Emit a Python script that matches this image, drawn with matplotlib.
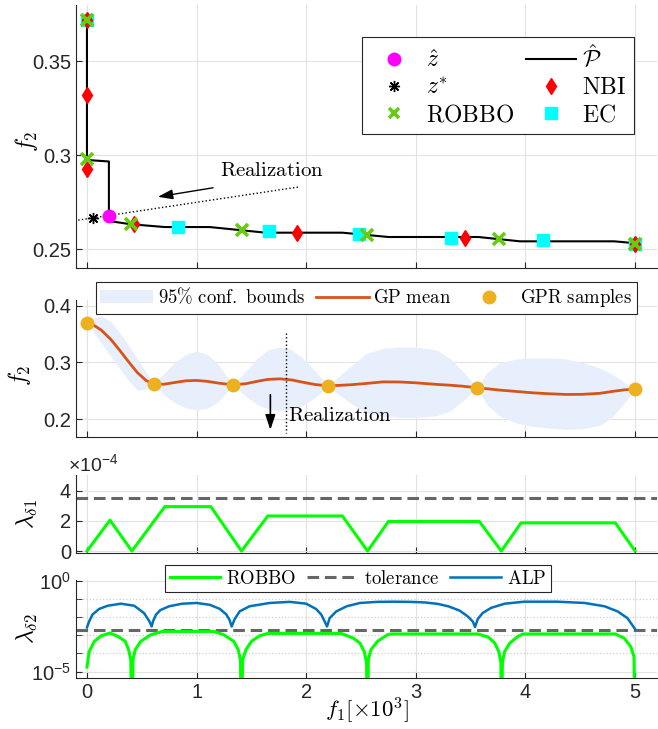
import numpy as np
import matplotlib.pyplot as plt
from matplotlib.ticker import FixedLocator, NullFormatter
from matplotlib.lines import Line2D
from matplotlib.patches import Patch

plt.rcParams['font.family'] = ['Liberation Sans', 'DejaVu Sans']
plt.rcParams['mathtext.fontset'] = 'cm'
plt.rcParams['axes.unicode_minus'] = False

# ---------------- data ----------------
# panel 1: estimated Pareto front and the methods' points
front_x = [0, 0, 0.20, 0.20, 0.40, 0.71, 1.12, 1.63, 2.33, 2.75, 3.57, 3.95, 4.81, 5.0]
front_y = [0.372, 0.2975, 0.2967, 0.265, 0.2633, 0.2618, 0.2618, 0.2588, 0.2588,
           0.2565, 0.2565, 0.2542, 0.2542, 0.2532]
zhat_x, zhat_y = [0.20], [0.2679]
zstar_x, zstar_y = [0.055], [0.2667]
robbo_x = [0, 0, 0.40, 1.41, 2.55, 3.76, 5.0]
robbo_y = [0.372, 0.298, 0.2636, 0.2602, 0.2577, 0.2553, 0.2530]
nbi_x = [0, 0, 0, 0.43, 1.92, 3.45, 5.0]
nbi_y = [0.372, 0.332, 0.2925, 0.2633, 0.2588, 0.2562, 0.2530]
ec_x = [0, 0.83, 1.665, 2.48, 3.32, 4.157, 5.0]
ec_y = [0.372, 0.2620, 0.2597, 0.2583, 0.2562, 0.2548, 0.2530]

# panel 2: GP regression
gp_x = [0, 0.05, 0.13, 0.22, 0.30, 0.38, 0.46, 0.54, 0.61,
        0.70, 0.80, 0.90, 1.00, 1.10, 1.20, 1.33,
        1.45, 1.55, 1.65, 1.76, 1.87, 1.97, 2.08, 2.20,
        2.30, 2.40, 2.55, 2.70, 2.85, 3.00, 3.19, 3.31, 3.43, 3.56,
        3.65, 3.77, 3.92, 4.07, 4.22, 4.37, 4.52, 4.68, 4.80, 4.90, 5.0]
gp_mean = [0.370, 0.367, 0.357, 0.340, 0.321, 0.301, 0.282, 0.268, 0.262,
           0.2615, 0.2645, 0.2675, 0.2682, 0.2665, 0.2635, 0.2604,
           0.2625, 0.2665, 0.2700, 0.2710, 0.2690, 0.2650, 0.2610, 0.2587,
           0.2595, 0.2605, 0.2629, 0.2657, 0.2655, 0.2640, 0.2612, 0.2598, 0.2580, 0.2552,
           0.2535, 0.2511, 0.2487, 0.2463, 0.2447, 0.2435, 0.2437, 0.2455, 0.2490, 0.2515, 0.2529]
gp_upper = [0.370, 0.378, 0.382, 0.372, 0.352, 0.330, 0.306, 0.283, 0.262,
            0.280, 0.300, 0.314, 0.320, 0.314, 0.296, 0.2604,
            0.285, 0.307, 0.322, 0.327, 0.322, 0.307, 0.285, 0.2587,
            0.276, 0.292, 0.316, 0.325, 0.327, 0.327, 0.322, 0.307, 0.284, 0.2552,
            0.282, 0.300, 0.306, 0.308, 0.308, 0.306, 0.300, 0.290, 0.278, 0.265, 0.2529]
gp_lower = [0.370, 0.356, 0.334, 0.310, 0.289, 0.268, 0.251, 0.253, 0.262,
            0.243, 0.229, 0.220, 0.216, 0.219, 0.231, 0.2604,
            0.240, 0.226, 0.218, 0.215, 0.217, 0.224, 0.238, 0.2587,
            0.243, 0.229, 0.211, 0.205, 0.203, 0.203, 0.206, 0.214, 0.232, 0.2552,
            0.225, 0.205, 0.193, 0.187, 0.184, 0.182, 0.183, 0.189, 0.205, 0.228, 0.2529]
gpr_x = [0, 0.61, 1.33, 2.20, 3.56, 5.0]
gpr_y = [0.370, 0.262, 0.2604, 0.2587, 0.2552, 0.2529]

# panel 3: lambda_delta1 (x1e-4)
lam1_x = [0, 0.21, 0.41, 0.71, 1.13, 1.41, 1.65, 2.33, 2.56, 2.75, 3.58, 3.78, 3.96, 4.82, 5.0]
lam1_y = [0, 2.05, 0, 2.95, 2.95, 0, 2.33, 2.33, 0, 1.96, 1.96, 0, 1.87, 1.87, 0]
tol1 = 3.55

# panel 4: lambda_delta2 (log10 values)
rob2_x = [0, 0.02, 0.067, 0.13, 0.21, 0.285, 0.35, 0.38, 0.40, 0.41,
          0.42, 0.44, 0.49, 0.58, 0.69, 1.16, 1.25, 1.34, 1.38, 1.40, 1.41,
          1.42, 1.45, 1.50, 1.575, 1.65, 2.32, 2.43, 2.49, 2.53, 2.55, 2.56,
          2.567, 2.59, 2.65, 2.74, 2.77, 3.565, 3.66, 3.72, 3.757, 3.776, 3.78,
          3.79, 3.81, 3.857, 3.93, 3.98, 4.82, 4.90, 4.96, 4.99, 5.0]
rob2_exp = [-4.75, -3.9, -3.34, -3.03, -2.88, -3.07, -3.34, -3.8, -4.35, -8,
            -4.35, -3.8, -3.34, -2.98, -2.79, -2.79, -2.98, -3.34, -3.8, -4.35, -8,
            -4.35, -3.8, -3.34, -3.03, -2.90, -2.90, -3.16, -3.43, -3.9, -4.5, -8,
            -4.35, -3.8, -3.34, -2.98, -2.93, -2.93, -3.1, -3.43, -3.9, -4.5, -8,
            -4.5, -3.9, -3.43, -3.07, -2.93, -2.93, -3.16, -3.62, -4.17, -8]
alp_x = [0, 0.02, 0.05, 0.11, 0.19, 0.31, 0.43, 0.52, 0.57, 0.59,
         0.605, 0.63, 0.67, 0.75, 0.87, 1.0, 1.12, 1.21, 1.27, 1.30, 1.32,
         1.348, 1.393, 1.484, 1.667, 1.849, 2.0, 2.09, 2.138, 2.168, 2.19,
         2.214, 2.275, 2.37, 2.49, 2.65, 2.80, 2.95, 3.08, 3.20, 3.30, 3.40, 3.47, 3.52, 3.54,
         3.565, 3.61, 3.686, 3.81, 3.99, 4.29, 4.54, 4.72, 4.84, 4.93, 5.0]
alp_exp = [-2.57, -2.24, -1.87, -1.56, -1.38, -1.27, -1.38, -1.78, -2.24, -2.52,
           -2.2, -1.87, -1.62, -1.41, -1.27, -1.23, -1.33, -1.55, -1.85, -2.15, -2.52,
           -2.11, -1.69, -1.41, -1.23, -1.17, -1.27, -1.56, -1.87, -2.24, -2.52,
           -2.06, -1.69, -1.41, -1.23, -1.17, -1.16, -1.17, -1.20, -1.28, -1.42, -1.65, -1.95, -2.25, -2.55,
           -2.11, -1.78, -1.5, -1.27, -1.16, -1.16, -1.23, -1.41, -1.69, -2.06, -2.66]
tol2 = 2.0e-3

# annotation positions
real1_line = ([-0.08, 1.94], [0.2655, 0.2832])
real1_arrow = ((1.15, 0.2827), (0.647, 0.2779))
real1_text = (1.21, 0.292)
real2_line = ([1.813, 1.813], [0.351, 0.175])
real2_arrow = ((1.673, 0.243), (1.673, 0.181))
real2_text = (1.834, 0.207)

GREEN = '#00ff00'
XGREEN = '#66cc11'
GRAY = '#666666'
BLUE = '#0072bd'
ORANGE = '#d95319'
GOLD = '#edb120'
BAND = '#e8effc'
AXC = '#262626'

def style(ax):
    for s in ['top', 'right']:
        ax.spines[s].set_visible(False)
    for s in ['left', 'bottom']:
        ax.spines[s].set_color(AXC)
        ax.spines[s].set_linewidth(0.8)
    ax.tick_params(direction='in', length=4, colors=AXC, labelsize=14.5, width=0.8)
    ax.tick_params(which='minor', direction='in', length=4, colors=AXC, width=0.6)
    ax.grid(True, color='#e2e2e2', lw=0.8)
    ax.set_axisbelow(True)
    ax.set_xlim(-0.1, 5.2)
    ax.set_xticks(range(6))

W, H = 658, 729
fig = plt.figure(figsize=(W / 100, H / 100), dpi=100)

def box(l, t, r, b):
    return [l / W, 1 - b / H, (r - l) / W, (b - t) / H]

ax1 = fig.add_axes(box(76, 5, 657, 268))
ax2 = fig.add_axes(box(76, 300, 657, 436.7))
ax3 = fig.add_axes(box(76, 475, 657, 553.3))
ax4 = fig.add_axes(box(76, 580, 657, 677.7))

# ---------------- panel 1 ----------------
style(ax1)
ax1.plot(front_x, front_y, color='k', lw=1.5, zorder=3)
ax1.plot(real1_line[0], real1_line[1], color='k', ls=':', lw=1, zorder=3)
ax1.plot(ec_x, ec_y, 's', color='cyan', ms=9, mec='cyan', zorder=4)
ax1.plot(nbi_x, nbi_y, 'd', color='red', ms=8.5, zorder=5)
ax1.plot(robbo_x, robbo_y, 'x', color=XGREEN, ms=9, mew=2.6, zorder=6)
ax1.plot(zstar_x, zstar_y, marker=(8, 2, 0), color='k', ms=8, mew=1, ls='none', zorder=6)
ax1.plot(zhat_x, zhat_y, 'o', color='magenta', ms=9, zorder=7)
ax1.annotate('', xy=real1_arrow[1], xytext=real1_arrow[0],
             arrowprops=dict(arrowstyle='-|>,head_length=0.9,head_width=0.3',
                             color='k', lw=1.0, shrinkA=0, shrinkB=0))
ax1.text(real1_text[0], real1_text[1], r'$\mathrm{Realization}$', fontsize=15,
         va='center', ha='left')
ax1.set_ylim(0.24, 0.38)
ax1.set_yticks([0.25, 0.3, 0.35])
ax1.set_yticklabels(['0.25', '0.3', '0.35'])
ax1.xaxis.set_major_formatter(NullFormatter())
ax1.set_ylabel(r'$f_2$', fontsize=17)
ax1.yaxis.set_label_coords(-0.062, 0.48)

h1 = [Line2D([], [], ls='none', marker='o', color='magenta', ms=9),
      Line2D([], [], ls='none', marker=(8, 2, 0), color='k', ms=8, mew=1),
      Line2D([], [], ls='none', marker='x', color=XGREEN, ms=7, mew=2.6),
      Line2D([], [], color='k', lw=1.5),
      Line2D([], [], ls='none', marker='d', color='red', ms=8.5),
      Line2D([], [], ls='none', marker='s', color='cyan', ms=8)]
l1 = [r'$\hat{z}$', r'$z^{*}$', r'$\mathrm{ROBBO}$', r'$\hat{\mathcal{P}}$',
      r'$\mathrm{NBI}$', r'$\mathrm{EC}$']
leg1 = ax1.legend(h1, l1, ncol=2, loc='upper right', bbox_to_anchor=(0.960, 0.877),
                  borderaxespad=0, fontsize=17, handlelength=2.15, handletextpad=0.25,
                  columnspacing=0.5, labelspacing=0.22, borderpad=0.3,
                  fancybox=False, framealpha=1, edgecolor=AXC)
leg1.get_frame().set_linewidth(0.8)

# ---------------- panel 2 ----------------
style(ax2)
ax2.fill_between(gp_x, gp_lower, gp_upper, color=BAND, lw=0, zorder=1)
ax2.plot(gp_x, gp_mean, color=ORANGE, lw=2, zorder=3)
ax2.plot(gpr_x, gpr_y, 'o', color=GOLD, ms=9, zorder=4)
ax2.plot(real2_line[0], real2_line[1], color='k', ls=':', lw=1, zorder=3)
ax2.annotate('', xy=real2_arrow[1], xytext=real2_arrow[0],
             arrowprops=dict(arrowstyle='-|>,head_length=0.9,head_width=0.3',
                             color='k', lw=1.2, shrinkA=0, shrinkB=0))
ax2.text(real2_text[0], real2_text[1], r'$\mathrm{Realization}$', fontsize=15,
         va='center', ha='left')
ax2.set_ylim(0.169, 0.41)
ax2.set_yticks([0.2, 0.3, 0.4])
ax2.set_yticklabels(['0.2', '0.3', '0.4'])
ax2.xaxis.set_major_formatter(NullFormatter())
ax2.set_ylabel(r'$f_2$', fontsize=17)
ax2.yaxis.set_label_coords(-0.074, 0.45)

h2 = [Patch(facecolor=BAND, edgecolor='none'),
      Line2D([], [], color=ORANGE, lw=2),
      Line2D([], [], ls='none', marker='o', color=GOLD, ms=9)]
l2 = [r'$\mathrm{95\%\ conf.\ bounds}$', r'$\mathrm{GP\ mean}$', r'$\mathrm{GPR\ samples}$']
leg2 = ax2.legend(h2, l2, ncol=3, loc='upper left', bbox_to_anchor=(0.034, 1.13),
                  borderaxespad=0, fontsize=13.5, handlelength=2.8, handletextpad=0.25,
                  columnspacing=0.6, borderpad=0.25, fancybox=False, framealpha=1,
                  edgecolor=AXC)
leg2.get_frame().set_linewidth(0.8)

# ---------------- panel 3 ----------------
style(ax3)
ax3.plot(lam1_x, lam1_y, color=GREEN, lw=2.2, zorder=3)
ax3.axhline(tol1, color=GRAY, ls=(0, (3.8, 1.9)), lw=2.2, zorder=2)
ax3.set_ylim(-0.15, 5.05)
ax3.set_yticks([0, 2, 4])
ax3.set_yticklabels(['0', '2', '4'])
ax3.xaxis.set_major_formatter(NullFormatter())
ax3.set_ylabel(r'$\lambda_{\delta1}$', fontsize=17)
ax3.yaxis.set_label_coords(-0.062, 0.5)
fig.text(68 / W, 1 - 464 / H, r'$\mathregular{\times10^{-4}}$', fontsize=14,
         ha='left', va='center', color=AXC)

# ---------------- panel 4 ----------------
style(ax4)
ax4.set_yscale('log')
ax4.plot(alp_x, np.power(10.0, alp_exp), color=BLUE, lw=1.8, zorder=3)
ax4.plot(rob2_x, np.power(10.0, rob2_exp), color=GREEN, lw=2.2, zorder=3)
ax4.axhline(tol2, color=GRAY, ls=(0, (3.8, 1.9)), lw=2.2, zorder=2)
ax4.set_ylim(10 ** -5.33, 10 ** 0.03)
ax4.yaxis.set_major_locator(FixedLocator([1e-5, 1.0]))
ax4.set_yticklabels([r'$\mathregular{10^{-5}}$', r'$\mathregular{10^{0}}$'])
ax4.yaxis.set_minor_locator(FixedLocator([1e-4, 1e-3, 1e-2, 1e-1]))
ax4.yaxis.set_minor_formatter(NullFormatter())
ax4.grid(True, which='minor', axis='y', color='#cfcfcf', ls=':', lw=0.9)
ax4.set_xticklabels([str(i) for i in range(6)])
ax4.set_xlabel(r'$f_1[\times10^3]$', fontsize=16.5, labelpad=-4)
ax4.set_ylabel(r'$\lambda_{\delta2}$', fontsize=17)
ax4.yaxis.set_label_coords(-0.062, 0.5)

h4 = [Line2D([], [], color=GREEN, lw=2.2),
      Line2D([], [], color=GRAY, ls=(0, (3.8, 1.9)), lw=2.2),
      Line2D([], [], color=BLUE, lw=1.8)]
l4 = [r'$\mathrm{ROBBO}$', r'$\mathrm{tolerance}$', r'$\mathrm{ALP}$']
leg4 = ax4.legend(h4, l4, ncol=3, loc='upper left', bbox_to_anchor=(0.153, 1.154),
                  borderaxespad=0, fontsize=13.5, handlelength=2.7, handletextpad=0.3,
                  columnspacing=0.6, borderpad=0.25, fancybox=False, framealpha=1,
                  edgecolor=AXC)
leg4.get_frame().set_linewidth(0.8)

fig.savefig('out.png', dpi=100)
